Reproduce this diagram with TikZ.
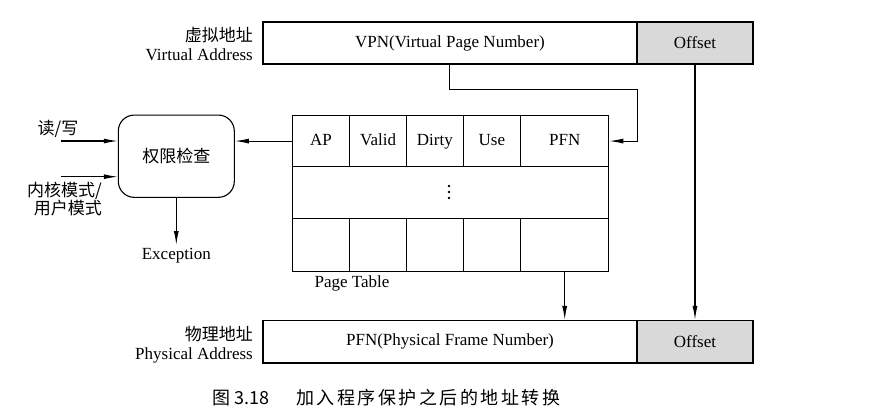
\documentclass[tikz,border=0pt]{standalone}
\usepackage{fontspec}
\setmainfont{Liberation Serif}
\newfontfamily\cjk{Noto Sans CJK SC}
\usetikzlibrary{arrows.meta}
\definecolor{offgray}{HTML}{D9D9D9}
\newcommand\capsp{\hspace{2.5pt}}
\begin{document}
\begin{tikzpicture}[x=1pt,y=-1pt,
  every node/.style={font=\fontsize{17}{18.5}\selectfont},
  box/.style={draw, line width=1.1pt, inner sep=0pt, minimum height=42pt},
  cell/.style={draw, line width=1.1pt, inner sep=0pt, anchor=north west, text height=12pt, text depth=3.5pt},
  arr/.style={line width=1.1pt, -{Latex[length=14pt,width=5pt]}},
  arrthin/.style={line width=0.9pt, -{Latex[length=14pt,width=5pt]}},
  lab/.style={anchor=east, align=right, inner sep=0pt},
]
\useasboundingbox (0,0) rectangle (873,413);

% virtual address
\node[box, minimum width=374pt] (vpn) at (450,43) {VPN(Virtual Page Number)};
\node[box, fill=offgray, minimum width=116pt] (voff) at (695,43) {Offset};
\node[lab] (vlab) at (253,44) {{\cjk 虚拟地址}\\Virtual Address};

% page table
\node[cell, minimum width=57.3pt, minimum height=51pt] (ap) at (291.7,115) {AP};
\node[cell, minimum width=57pt, minimum height=51pt] (valid) at (349,115) {Valid};
\node[cell, minimum width=56.7pt, minimum height=51pt] (dirty) at (406,115) {Dirty};
\node[cell, minimum width=57.3pt, minimum height=51pt] (use) at (462.7,115) {Use};
\node[cell, minimum width=88.3pt, minimum height=51pt] (pfn) at (520,115) {PFN};
\node[cell, minimum width=316.6pt, minimum height=51.7pt] (mid) at (291.7,166) {};
\node[cell, minimum width=57.3pt, minimum height=53pt] (b1) at (291.7,217.7) {};
\node[cell, minimum width=57pt, minimum height=53pt] (b2) at (349,217.7) {};
\node[cell, minimum width=56.7pt, minimum height=53pt] (b3) at (406,217.7) {};
\node[cell, minimum width=57.3pt, minimum height=53pt] (b4) at (462.7,217.7) {};
\node[cell, minimum width=88.3pt, minimum height=53pt] (b5) at (520,217.7) {};
\foreach \yy in {186,192,198} \fill (449,\yy) circle (1.3pt);
\node (ptl) at (352,283) {Page Table};

% permission check
\node[draw, line width=1.1pt, rounded corners=16pt, minimum width=116pt, minimum height=82.3pt, inner sep=0pt] (chk) at (176.3,156.2) {\cjk 权限检查};
\node (rwl) at (58,129) {\cjk 读/写};
\node[lab, font=\fontsize{17}{18.5}\selectfont\cjk] (kml) at (102,199) {内核模式/\\用户模式};
\coordinate (in1) at (61,141);
\coordinate (in2) at (61,176.7);
\draw[arr] (in1) -- (chk.west |- in1);
\draw[arr] (in2) -- (chk.west |- in2);
\draw[arr] (ap.west) -- (chk.east |- ap.west);
\node (exc) at (176.3,256) {Exception};
\draw[arr] (chk.south) -- (exc.north);

% physical address
\node[box, minimum width=374pt, minimum height=42.5pt] (ppfn) at (450,341.75) {PFN(Physical Frame Number)};
\node[box, fill=offgray, minimum width=116pt, minimum height=42.5pt] (poff) at (695,341.75) {Offset};
\node[lab] (plab) at (253,344.5) {{\cjk 物理地址}\\Physical Address};

% connectors
\draw[arrthin] ([xshift=-0.7pt]vpn.south) |- (637.3,89) |- (pfn.east);
\draw[arr] (voff.south) -- (poff.north);
\draw[arr] (b5.south) -- (ppfn.north -| b5.south);

% caption
\node[anchor=west, inner sep=0pt, font=\fontsize{18}{20}\selectfont] (cap) at (212,398) {\cjk 图 3.18\hspace{27pt}加\capsp 入\capsp 程\capsp 序\capsp 保\capsp 护\capsp 之\capsp 后\capsp 的\capsp 地\capsp 址\capsp 转\capsp 换};
\end{tikzpicture}
\end{document}
